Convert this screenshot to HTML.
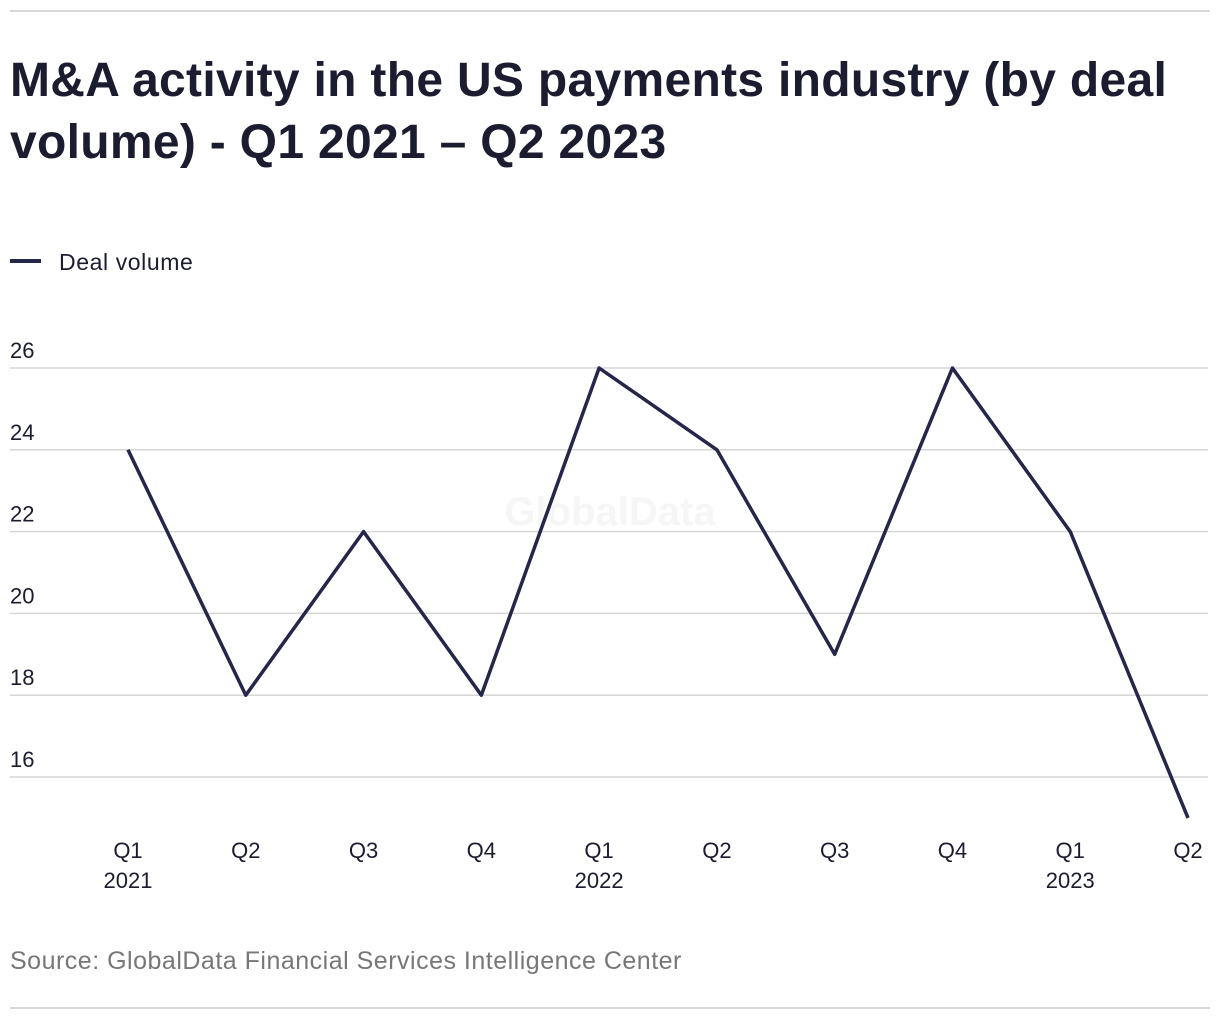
<!DOCTYPE html>
<html><head><meta charset="utf-8"><style>
body{margin:0;background:#fff;width:1220px;height:1020px;overflow:hidden;font-family:"Liberation Sans",sans-serif;}
</style></head><body>
<svg width="1220" height="1020" xmlns="http://www.w3.org/2000/svg">
<line x1="10" y1="11" x2="1210" y2="11" stroke="#d8d8d8" stroke-width="2"/>
<text x="10" y="96" font-size="48" font-weight="bold" fill="#1c1c30" letter-spacing="0.3">M&amp;A activity in the US payments industry (by deal</text>
<text x="10" y="158" font-size="48" font-weight="bold" fill="#1c1c30" letter-spacing="0.3">volume) - Q1 2021 – Q2 2023</text>
<line x1="10" y1="261" x2="41" y2="261" stroke="#26254a" stroke-width="4"/>
<text x="59" y="270" font-size="23" fill="#1c1c30" letter-spacing="0.6">Deal volume</text>
<text x="610" y="525" font-size="40" font-weight="bold" fill="#f6f6f6" text-anchor="middle">GlobalData</text>
<g id="grid"></g><g id="xl"></g>
<polyline id="line" fill="none" stroke="#26254a" stroke-width="3.5" stroke-linejoin="round"/>
<text x="10" y="969" font-size="25" fill="#777" letter-spacing="0.5">Source: GlobalData Financial Services Intelligence Center</text>
<line x1="10" y1="1008" x2="1210" y2="1008" stroke="#d8d8d8" stroke-width="2"/>
</svg>
<script>
const quarters=["Q1","Q2","Q3","Q4","Q1","Q2","Q3","Q4","Q1","Q2"];
const years=["2021","","","","2022","","","","2023",""];
const values=[24,18,22,18,26,24,19,26,22,15];
const yTicks=[16,18,20,22,24,26];
const NS="http://www.w3.org/2000/svg";
const x=i=>128+i*(1188-128)/(values.length-1);
const y=v=>368+(26-v)*40.9;
const grid=document.getElementById('grid');
yTicks.forEach(t=>{
 const l=document.createElementNS(NS,'line');
 l.setAttribute('x1',10);l.setAttribute('x2',1208);l.setAttribute('y1',y(t));l.setAttribute('y2',y(t));
 l.setAttribute('stroke','#d6d6d6');l.setAttribute('stroke-width','1.5');
 
 
 grid.appendChild(l);
 const tx=document.createElementNS(NS,'text');
 tx.setAttribute('x',10);tx.setAttribute('y',y(t)-10);tx.setAttribute('font-size','22');tx.setAttribute('fill','#1c1c30');
 tx.textContent=t;
 
 
 grid.appendChild(tx);
});
const xl=document.getElementById('xl');
quarters.forEach((q,i)=>{
 const tx=document.createElementNS(NS,'text');
 tx.setAttribute('x',x(i));tx.setAttribute('y',858);tx.setAttribute('font-size','22');tx.setAttribute('fill','#1c1c30');tx.setAttribute('text-anchor','middle');
 tx.textContent=q;
 
 
 xl.appendChild(tx);
 if(years[i]){
  const ty=document.createElementNS(NS,'text');
  ty.setAttribute('x',x(i));ty.setAttribute('y',888);ty.setAttribute('font-size','22');ty.setAttribute('fill','#1c1c30');ty.setAttribute('text-anchor','middle');
  ty.textContent=years[i];
  
  
  xl.appendChild(ty);
 }
});
document.getElementById('line').setAttribute('points',values.map((v,i)=>x(i)+','+y(v)).join(' '));
</script>
</body></html>
